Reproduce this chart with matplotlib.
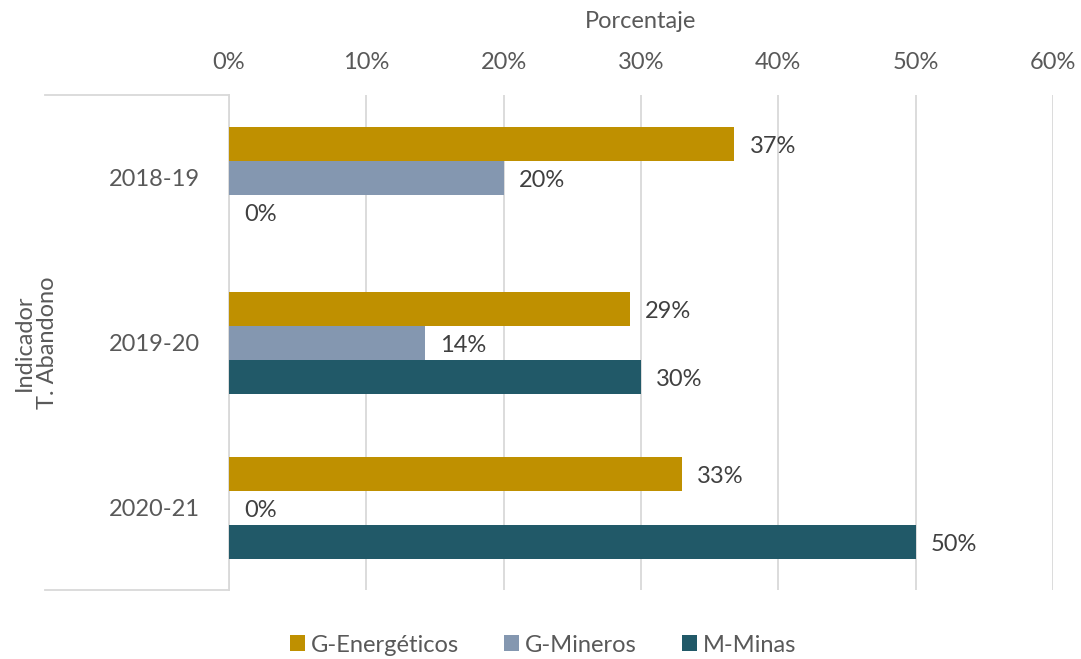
import numpy as np
import matplotlib.pyplot as plt
from matplotlib.patches import Patch
from matplotlib.lines import Line2D

plt.rcParams['font.family'] = ['Lato', 'DejaVu Sans']

periods = ['2018-19', '2019-20', '2020-21']
series = ['G-Energéticos', 'G-Mineros', 'M-Minas']
energeticos = [36.8, 29.2, 33.0]
mineros = [20.0, 14.3, 0.0]
minas = [0.0, 30.0, 50.0]
colors = ['#BF9000', '#8497B0', '#215968']
xticks = [0, 10, 20, 30, 40, 50, 60]

W, H = 1081, 659
fig = plt.figure(figsize=(W / 100, H / 100), dpi=100)
left, right, top, bottom = 229, 1053, 95, 590
ax = fig.add_axes([left / W, 1 - bottom / H, (right - left) / W, (bottom - top) / H])

txt = '#595959'
lab = '#404040'
grid = '#D9D9D9'
fs = 17

y = np.arange(len(periods))
bh = 34 / 165
values = [energeticos, mineros, minas]
for i, (name, vals, c) in enumerate(zip(series, values, colors)):
    ypos = y + (i - 1) * bh
    ax.barh(ypos, vals, height=bh, color=c, label=name, zorder=3)
    for yy, v in zip(ypos, vals):
        ax.text(v + 1.1, yy + 0.02, f'{round(v):.0f}%', va='center', ha='left',
                fontsize=fs, color=lab)

ax.set_xlim(0, 60)
ax.set_ylim(2.5, -0.5)
ax.set_xticks(xticks)
ax.set_xticklabels([f'{t}%' for t in xticks])
ax.xaxis.tick_top()
ax.xaxis.set_label_position('top')
ax.set_xlabel('Porcentaje', fontsize=fs, color=txt, labelpad=17)
ax.tick_params(axis='x', length=0, pad=16, labelsize=fs, labelcolor=txt)
ax.set_yticks(y)
ax.set_yticklabels(periods)
ax.tick_params(axis='y', length=0, pad=21, labelsize=fs, labelcolor=txt)
ax.grid(axis='x', color=grid, linewidth=1.3, zorder=0)
for s in ['top', 'right', 'bottom']:
    ax.spines[s].set_visible(False)
ax.spines['left'].set_color(grid)
ax.spines['left'].set_linewidth(1.3)

# outer category level lines
for yy in [top, bottom]:
    fig.add_artist(Line2D([45 / W, left / W], [1 - yy / H, 1 - yy / H],
                          color=grid, linewidth=1.3))
fig.text(36 / W, 1 - 343 / H, 'Indicador\nT. Abandono', rotation=90,
         ha='center', va='center', fontsize=fs, color=txt, linespacing=1.15)

handles = [Patch(facecolor=c, label=s) for s, c in zip(series, colors)]
fig.legend(handles=handles, loc='center', bbox_to_anchor=(543 / W, 1 - 645 / H),
           ncol=3, frameon=False, fontsize=fs, labelcolor=txt,
           handlelength=0.65, handleheight=0.65, handletextpad=0.25, columnspacing=1.9)

fig.savefig('out.png', dpi=100)
